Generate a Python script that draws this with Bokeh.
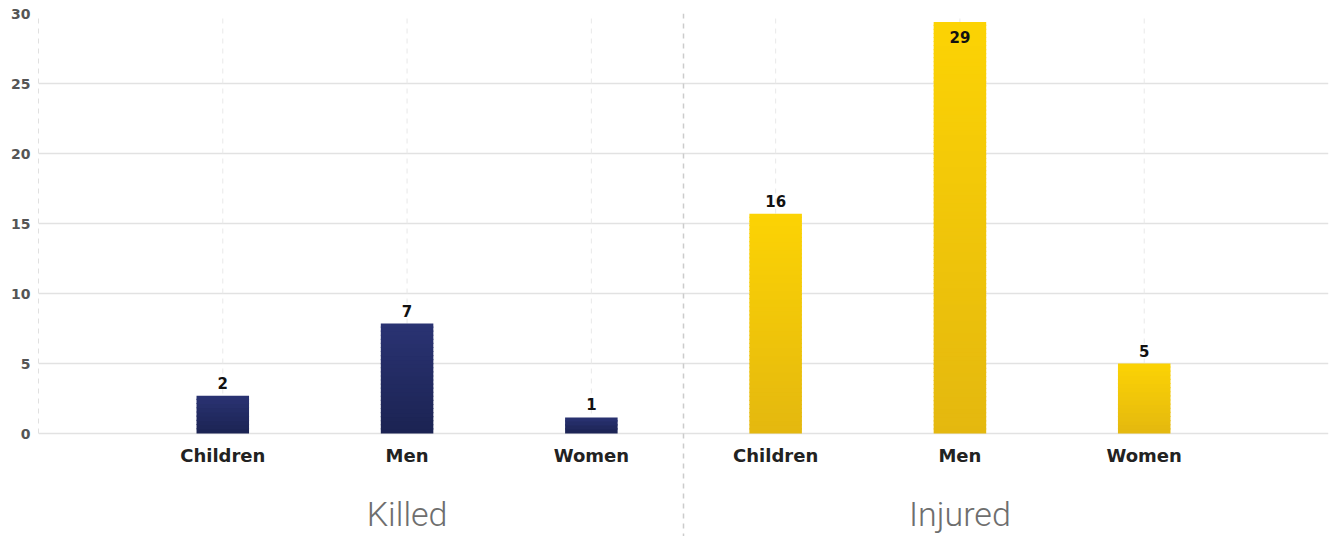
from bokeh.plotting import figure
from bokeh.models import FactorRange, Range1d, FixedTicker, Span, ColumnDataSource
from bokeh.core.properties import value
from bokeh.embed import file_html
from bokeh.resources import INLINE

groups = ["Killed", "Injured"]
categories = ["Children", "Men", "Women"]
killed_labels = [2, 7, 1]
injured_labels = [16, 29, 5]
# bar heights as drawn in the picture
killed_heights = [2.7, 7.85, 1.15]
injured_heights = [15.7, 29.4, 5.0]
y_ticks = [0, 5, 10, 15, 20, 25, 30]

factors = [(g, c) for g in groups for c in categories]
heights = killed_heights + injured_heights
labels = killed_labels + injured_labels

BOLD = "DejaVu Sans"
LIGHT = "Roboto Light"

# frame runs to the bottom of the page: 0 sits 103px above it (14px per unit)
p = figure(
    width=1333, height=536,
    x_range=FactorRange(factors=factors, factor_padding=0, group_padding=0,
                        range_padding=0.5, range_padding_units="absolute"),
    y_range=Range1d(-103 / 14, 30),
    output_backend="svg", toolbar_location=None,
    min_border_left=38, min_border_right=5, min_border_top=13, min_border_bottom=0,
)
p.outline_line_color = None
p.background_fill_color = "white"
p.border_fill_color = "white"
p.xaxis.visible = False

# grids
p.ygrid.ticker = FixedTicker(ticks=y_ticks)
p.ygrid.grid_line_color = "#e2e2e2"
p.ygrid.grid_line_width = 1.5
p.xgrid.visible = False
# vertical dashed guides at each category, from 0 to the top of the scale
p.segment(x0=factors, y0=[y_ticks[0]] * len(factors), x1=factors,
          y1=[y_ticks[-1]] * len(factors), line_color="#e9e9e9",
          line_dash="5 5", line_width=1)

# y axis
p.yaxis.ticker = FixedTicker(ticks=y_ticks)
p.yaxis.bounds = (0, 30)
p.yaxis.axis_line_color = "#e0e0e0"
p.yaxis.axis_line_dash = "5 5"
p.yaxis.major_tick_line_color = None
p.yaxis.minor_tick_line_color = None
p.yaxis.major_tick_out = 0
p.yaxis.major_tick_in = 0
p.yaxis.major_label_text_font = BOLD
p.yaxis.major_label_text_font_style = "bold"
p.yaxis.major_label_text_font_size = "14px"
p.yaxis.major_label_text_color = "#555555"
p.yaxis.major_label_standoff = 8

# divider between groups
p.add_layout(Span(location=3, dimension="height", line_color="#cccccc",
                  line_dash="5 5", line_width=1.5))

def hex2rgb(h):
    h = h.lstrip("#")
    return tuple(int(h[i:i + 2], 16) for i in (0, 2, 4))

def mix(c1, c2, t):
    a, b = hex2rgb(c1), hex2rgb(c2)
    return "#%02x%02x%02x" % tuple(round(a[i] + (b[i] - a[i]) * t) for i in range(3))

colors = {"Killed": ("#1b2352", "#2a3373"), "Injured": ("#e4b80f", "#fcd304")}
xs, bots, tops, cols = [], [], [], []
for f, h in zip(factors, heights):
    lo, hi = colors[f[0]]
    n = max(2, int(h * 14 / 4))
    for k in range(n):
        xs.append(f)
        bots.append(h * k / n)
        tops.append(min(h, h * (k + 1) / n + 0.08))
        cols.append(mix(lo, hi, (k + 0.5) / n))
p.vbar(x=xs, bottom=bots, top=tops, width=0.285, color=cols, line_color=None)

# value labels
inside = [h > 27 for h in heights]
out_src = ColumnDataSource(dict(x=[f for f, i in zip(factors, inside) if not i],
                                y=[h for h, i in zip(heights, inside) if not i],
                                t=[str(l) for l, i in zip(labels, inside) if not i]))
in_src = ColumnDataSource(dict(x=[f for f, i in zip(factors, inside) if i],
                               y=[h for h, i in zip(heights, inside) if i],
                               t=[str(l) for l, i in zip(labels, inside) if i]))
p.text(x="x", y="y", text="t", source=out_src, text_align="center", text_baseline="bottom",
       y_offset=-7, text_font=value(BOLD), text_font_style="bold",
       text_font_size="15px", text_color="#111111")
p.text(x="x", y="y", text="t", source=in_src, text_align="center", text_baseline="top",
       y_offset=9, text_font=value(BOLD), text_font_style="bold",
       text_font_size="15px", text_color="#111111")

# category labels under the bars
p.text(x=factors, y=[0] * len(factors), text=[f[1] for f in factors],
       text_align="center", text_baseline="middle", y_offset=22,
       text_font=value(BOLD), text_font_style="bold", text_font_size="18px",
       text_color="#222222")

# group titles, centred on each group's middle category
p.text(x=[(g, categories[1]) for g in groups], y=[0] * len(groups), text=groups,
       text_align="center", text_baseline="middle", y_offset=80,
       text_font=value(LIGHT), text_font_size="34px", text_color="#6e6e6e")

open("out.html", "w").write(file_html(p, INLINE))
